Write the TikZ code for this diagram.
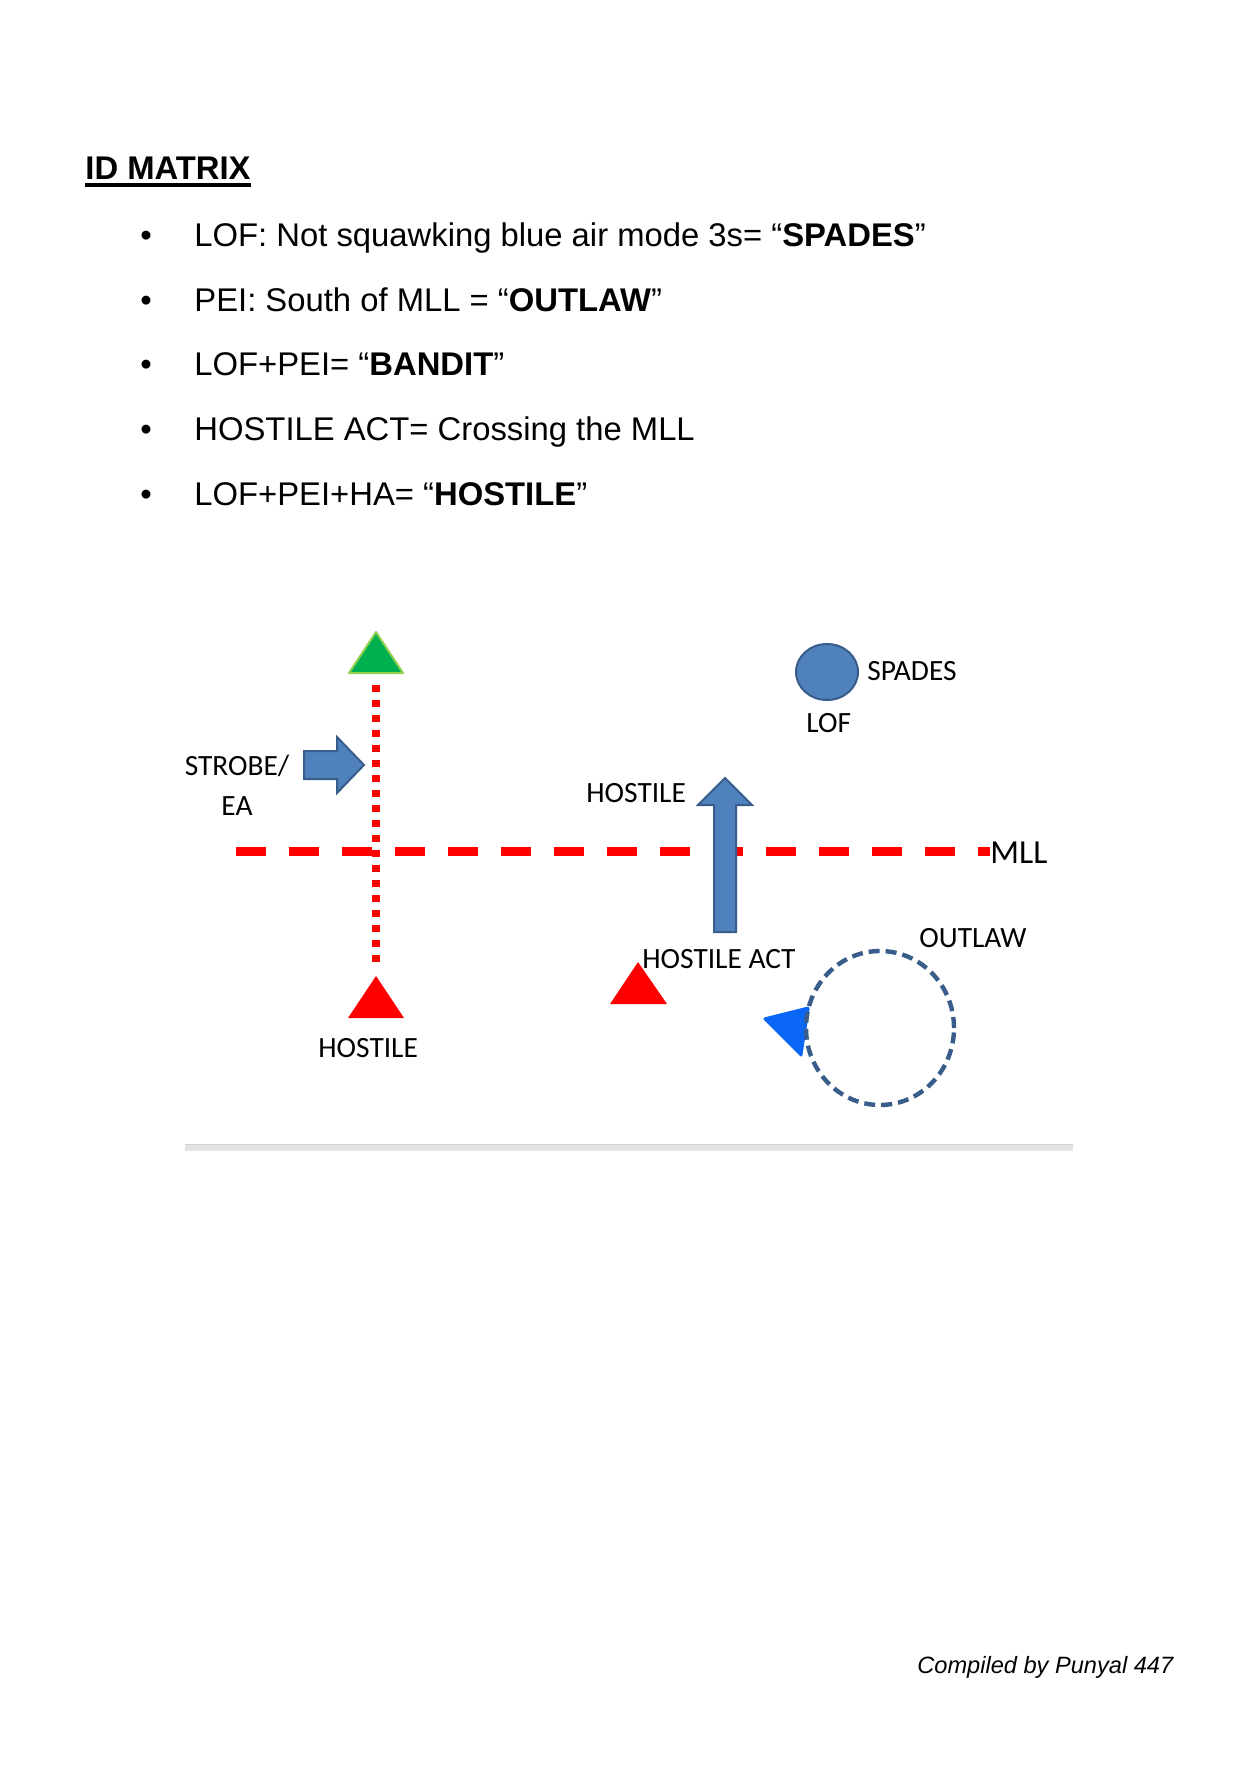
\documentclass[tikz,border=0pt]{standalone}
\usepackage{fontspec}
\setmainfont{Liberation Sans}
\newfontfamily\calibri{Carlito}
\usetikzlibrary{positioning}
\definecolor{RedMark}{HTML}{FF0000}
\definecolor{GreenMark}{HTML}{00B050}
\definecolor{GreenEdge}{HTML}{92D050}
\definecolor{SteelFill}{HTML}{4F81BD}
\definecolor{SteelEdge}{HTML}{385D8A}
\definecolor{BrightBlue}{HTML}{0A66F5}
\definecolor{BarGrey}{HTML}{E4E4E4}
\definecolor{BarEdge}{HTML}{D2D2D2}
\tikzset{
  bodyline/.style={anchor=base west,inner sep=0pt,font=\fontsize{16.4}{20}\selectfont},
  bulletmark/.style={anchor=base,inner sep=0pt,font=\fontsize{16.4}{20}\selectfont},
  lbl/.style={anchor=base west,inner sep=0pt,font=\calibri\fontsize{14.7}{20}\selectfont},
  steelshape/.style={fill=SteelFill,draw=SteelEdge,line width=1pt,line join=miter},
}
\begin{document}
\begin{tikzpicture}[x=0.5pt,y=-0.5pt]
    \fill[white] (0,0) rectangle (1259,1786);
    \useasboundingbox (0,0) rectangle (1259,1786);
    % heading and list
    \node[bodyline,font=\bfseries\fontsize{16.4}{20}\selectfont] (title) at (85,180) {ID MATRIX};
    \draw[line width=2pt] ([yshift=-2.3pt]title.base west) -- ([yshift=-2.3pt]title.base east);
    \foreach \yy in {247,311.5,376,440.5,505}
      \node[bulletmark] at (146,\yy) {•};
    \node[bodyline] (lof) at (194,247) {LOF: Not squawking blue air mode 3s= “\textbf{SPADES}”};
    \node[bodyline] (pei) at (194,311.5) {PEI: South of MLL = “\textbf{OUTLAW}”};
    \node[bodyline] (bandit) at (194,376) {LOF+PEI= “\textbf{BANDIT}”};
    \node[bodyline] (hact) at (194,440.5) {HOSTILE ACT= Crossing the MLL};
    \node[bodyline] (hostile) at (194,505) {LOF+PEI+HA= “\textbf{HOSTILE}”};
    % MLL line
    \node[lbl,font=\calibri\fontsize{16.8}{20}\selectfont] (mll) at (990,863) {MLL};
    \coordinate (mllstart) at (236,851);
    \draw[RedMark,line width=4.5pt,dash pattern=on 15pt off 11.5pt] (mllstart) -- (mll.west |- mllstart);
    % friendly track north, hostile track south
    \fill[GreenMark,draw=GreenEdge,line width=1pt,line join=round] (376,632) -- (403,673) -- (349,673) -- cycle;
    \fill[RedMark] (376,976) -- (404,1018) -- (348,1018) -- cycle;
    \coordinate (topend) at (376,685);
    \coordinate (lowend) at (376,963);
    \draw[RedMark,line width=4pt,dash pattern=on 3.5pt off 4pt] (topend) -- (lowend);
    \node[lbl] (hostlow) at (318,1057) {HOSTILE};
    % strobe
    \draw[steelshape] (304,751) -- (337,751) -- (337,737) -- (364,765) -- (337,793) -- (337,779) -- (304,779) -- cycle;
    \node[lbl,anchor=base,align=center] (strobe) at (237,815) {STROBE/\\EA};
    % hostile act
    \fill[RedMark] (638,962) -- (667,1004) -- (610,1004) -- cycle;
    \node[lbl] (hostact) at (642,968) {HOSTILE ACT};
    \draw[steelshape] (714,932) -- (714,805) -- (698,805) -- (725,778) -- (752,805) -- (736,805) -- (736,932) -- cycle;
    \node[lbl] (hostup) at (586,802) {HOSTILE};
    % spades
    \draw[steelshape] (827,672) ellipse [x radius=15.5pt, y radius=14pt];
    \node[lbl] (spades) at (867,680) {SPADES};
    \node[lbl] (lofl) at (806,732) {LOF};
    % outlaw
    \fill[BrightBlue,rounded corners=1.5pt] (762,1018) -- (810,1006) -- (802,1058) -- cycle;
    \draw[SteelEdge,line width=2.2pt,dash pattern=on 5.5pt off 3pt] (880,1028) ellipse [x radius=37pt, y radius=38.5pt];
    \node[lbl] (outlaw) at (919,947) {OUTLAW};
    % bar and credit
    \fill[BarGrey] (185,1144) rectangle (1073,1151);
    \draw[BarEdge,line width=0.5pt] (185,1144.5) -- (1073,1144.5);
    \node[bodyline,font=\itshape\fontsize{11.8}{14}\selectfont] (credit) at (917,1673) {Compiled by Punyal 447};
\end{tikzpicture}
\end{document}
